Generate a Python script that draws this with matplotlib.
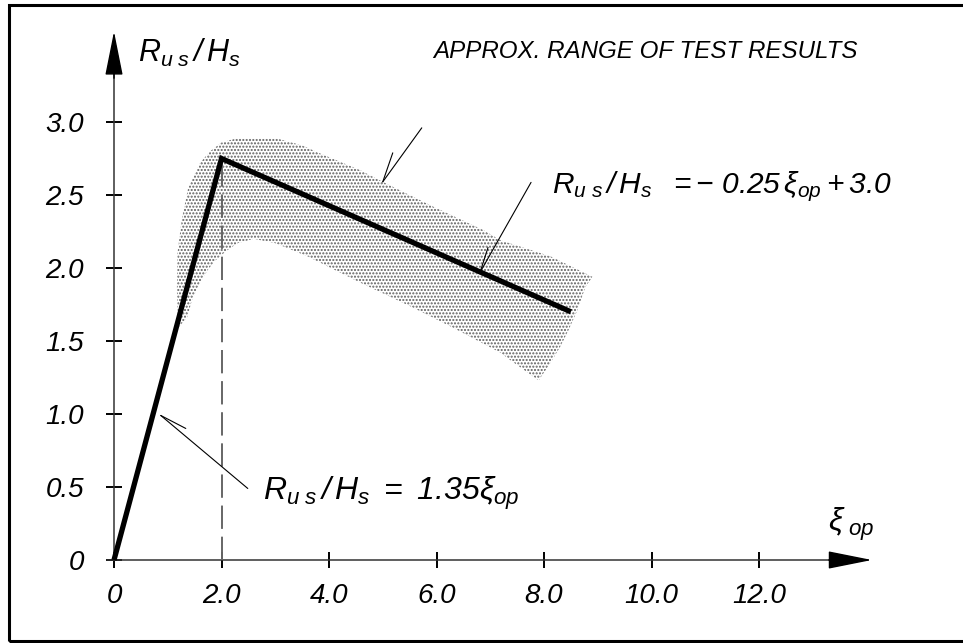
import matplotlib
matplotlib.use('Agg')
import matplotlib.pyplot as plt
from matplotlib import font_manager

# fonts: Helvetica-like italic everywhere
names = {f.name for f in font_manager.fontManager.ttflist}
narrow = 'Liberation Sans Narrow' if 'Liberation Sans Narrow' in names else 'Liberation Sans'
plt.rcParams['font.family'] = ['Liberation Sans', 'DejaVu Sans']
plt.rcParams['font.style'] = 'italic'
plt.rcParams['mathtext.fontset'] = 'custom'
plt.rcParams['mathtext.it'] = 'Liberation Sans:italic'
plt.rcParams['mathtext.rm'] = 'Liberation Sans:italic'
plt.rcParams['mathtext.sf'] = 'Liberation Sans:italic'
plt.rcParams['hatch.linewidth'] = 1.0

# data
line_x = [0.0, 2.0, 8.5]
line_y = [0.0, 2.75, 1.70]

band_x = [1.19, 1.17, 1.18, 1.26, 1.38, 1.60, 1.79, 2.00, 2.30, 3.00, 3.50, 3.80,
          4.58, 5.00, 5.94, 6.87, 7.19, 8.12, 8.90, 8.77, 8.62, 8.45, 8.30, 8.12,
          7.90, 7.37, 7.19, 6.26, 5.50, 4.58, 3.60, 3.00, 2.60, 2.30, 2.10, 1.88,
          1.75, 1.60, 1.45, 1.36, 1.19]
band_y = [1.59, 1.85, 2.10, 2.33, 2.55, 2.72, 2.80, 2.86, 2.89, 2.89, 2.84, 2.79,
          2.67, 2.59, 2.42, 2.26, 2.19, 2.08, 1.94, 1.87, 1.71, 1.57, 1.46, 1.35,
          1.23, 1.37, 1.42, 1.60, 1.74, 1.90, 2.08, 2.17, 2.20, 2.17, 2.12, 2.05,
          1.99, 1.90, 1.78, 1.66, 1.59]

xticks = [0, 2, 4, 6, 8, 10, 12]
xtick_labels = ['0', '2.0', '4.0', '6.0', '8.0', '10.0', '12.0']
yticks = [0, 0.5, 1.0, 1.5, 2.0, 2.5, 3.0]
ytick_labels = ['0', '0.5', '1.0', '1.5', '2.0', '2.5', '3.0']

fig = plt.figure(figsize=(9.63, 6.43), dpi=100)
ax = fig.add_axes([0, 0, 1, 1])
ax.set_xlim(-2.121, 15.795)
ax.set_ylim(-0.5685, 3.8356)

# range of test results (stippled)
ax.fill(band_x, band_y, facecolor='none', edgecolor='#5e5e5e', lw=0,
        hatch='.....', zorder=1)

# design line
ax.plot(line_x, line_y, color='black', lw=3.8, solid_joinstyle='miter',
        solid_capstyle='butt', zorder=4)
ax.vlines(line_x[1], 0, line_y[1], colors='#666666', linestyles=(0, (12, 4)),
          lw=1.4, zorder=3)

# axes as arrows through the origin
for side in ['top', 'right']:
    ax.spines[side].set_visible(False)
ax.spines['left'].set_position(('data', 0))
ax.spines['bottom'].set_position(('data', 0))
ax.spines['left'].set_bounds(0, 3.5)
ax.spines['bottom'].set_bounds(-0.13, 13.5)
for side in ['left', 'bottom']:
    ax.spines[side].set_color('#333333')
    ax.spines[side].set_linewidth(1.1)
ax.annotate('', xy=(14.1, 0), xytext=(13.3, 0),
            arrowprops=dict(arrowstyle='-|>,head_length=2.0,head_width=0.4',
                            mutation_scale=14, color='black', lw=1.0,
                            shrinkA=0, shrinkB=0))
ax.annotate('', xy=(0, 3.62), xytext=(0, 3.3),
            arrowprops=dict(arrowstyle='-|>,head_length=2.0,head_width=0.4',
                            mutation_scale=14, color='black', lw=1.0,
                            shrinkA=0, shrinkB=0))

ax.set_xticks(xticks)
ax.set_xticklabels(xtick_labels)
ax.set_yticks(yticks)
ax.set_yticklabels(ytick_labels)
ax.tick_params(direction='inout', length=11.5, width=1.4, color='black',
               labelsize=20)
ax.tick_params(axis='x', pad=11)
ax.tick_params(axis='y', pad=16)

# axis titles
ax.text(0.45, 3.41, r'$R_{u\ s}\,/\,H_s$', fontsize=22, ha='left', va='baseline')
ax.text(13.28, 0.2, r'$\xi_{\ op}$', fontsize=23, ha='left', va='baseline')

# labels and leaders
ax.text(5.93, 3.44, 'APPROX. RANGE OF TEST RESULTS', family=narrow,
        fontsize=17.4, ha='left', va='baseline')
ax.text(8.15, 2.51, r'$R_{u\ s}\,/\,H_s\ \ =-\ 0.25\,\xi_{op}+3.0$', fontsize=21.5,
        ha='left', va='baseline')
ax.text(2.77, 0.41, r'$R_{u\ s}\,/\,H_s\ =\ 1.35\xi_{op}$', fontsize=23,
        ha='left', va='baseline')


def leader(tip, main, barb):
    for off in (main, barb):
        ax.annotate('', xy=tip, xytext=off, textcoords='offset pixels',
                    arrowprops=dict(arrowstyle='-', lw=0.8, color='black',
                                    shrinkA=0, shrinkB=0))


leader((5.0, 2.59), (39, 54), (10, 29))
leader((6.81, 1.97), (51, 90), (8, 25))
leader((0.87, 0.99), (87, -73), (25, -13))

# outer frame
fig.patches.append(plt.Rectangle((9 / 963, 2 / 643), 1.2, 636 / 643,
                                 transform=fig.transFigure, fill=False,
                                 lw=2.2, ec='black'))

fig.savefig('out.png', dpi=100)
